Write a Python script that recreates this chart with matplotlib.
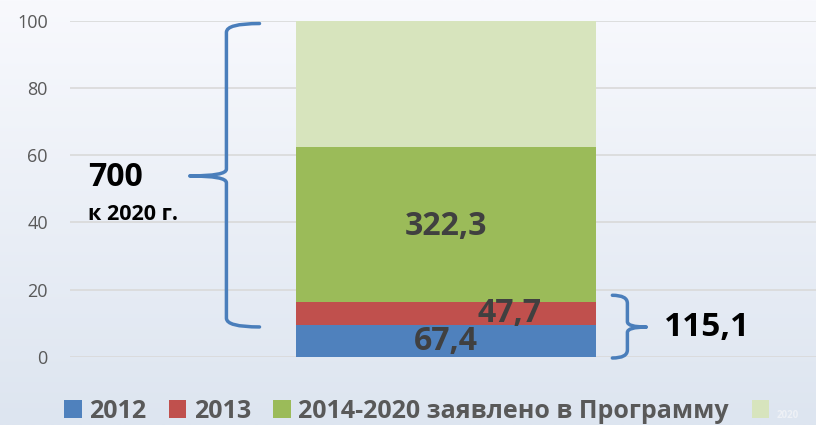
import numpy as np
import matplotlib
matplotlib.use("Agg")
import matplotlib.pyplot as plt
from matplotlib.path import Path
from matplotlib.patches import PathPatch, Patch

plt.rcParams['font.family'] = ['Open Sans', 'DejaVu Sans']

# ---- data ----
series_names = ['2012', '2013', '2014-2020 заявлено в Программу', '2020']
values = [67.4, 47.7, 322.3, 262.6]          # млн (total 700)
value_labels = ['67,4', '47,7', '322,3', None]
colors = ['#4f81bd', '#c0504d', '#9bbb59', '#d7e4bd']
total_label = '700'
total_sub = 'к 2020 г.'
sum_label = '115,1'
yticks = [0, 20, 40, 60, 80, 100]

total = sum(values)
pct = [v / total * 100 for v in values]

fig = plt.figure(figsize=(8.16, 4.25), dpi=100)

# gradient background
bg = fig.add_axes([0, 0, 1, 1], zorder=-10)
top = np.array([0xf8, 0xf9, 0xfd]) / 255
bot = np.array([0xdd, 0xe5, 0xf0]) / 255
t = np.linspace(0, 1, 256)[:, None]
grad = top[None, :] * (1 - t) + bot[None, :] * t
bg.imshow(grad[:, None, :], aspect='auto', extent=[0, 1, 0, 1])
bg.axis('off')

ax = fig.add_axes([70 / 816, 68 / 425, 746 / 816, 336.5 / 425])
ax.set_facecolor('none')

bottom = 0
mids = []
for p, c in zip(pct, colors):
    ax.bar(0, p, width=1.0, bottom=bottom, color=c, zorder=3)
    mids.append(bottom + p / 2)
    bottom += p

ax.set_xlim(-1.25, 1.23)
ax.set_ylim(0, 100)
ax.set_yticks(yticks)
ax.set_xticks([])
ax.grid(axis='y', color='#d9d9d9', lw=1.2, zorder=0)
for s in ax.spines.values():
    s.set_visible(False)
ax.tick_params(axis='y', length=0, pad=16, labelsize=13, labelcolor='#595959')

# value labels
lab_fs = 23
lab_col = '#404040'
ax.text(0, mids[0] - 0.3, value_labels[0], ha='center', va='center',
        fontsize=lab_fs, fontweight='bold', color=lab_col, zorder=5)
ax.text(0.21, mids[1], value_labels[1], ha='center', va='center',
        fontsize=lab_fs, fontweight='bold', color=lab_col, zorder=5)
ax.text(0, mids[2] - 0.8, value_labels[2], ha='center', va='center',
        fontsize=lab_fs, fontweight='bold', color=lab_col, zorder=5)


def brace(ax, x_end, x_spine, x_tip, y0, y1, ym, r, rm):
    verts = [(x_end, y1),
             (x_spine, y1), (x_spine, y1 - r),
             (x_spine, ym + rm),
             (x_spine, ym), (x_tip, ym),
             (x_spine, ym), (x_spine, ym - rm),
             (x_spine, y0 + r),
             (x_spine, y0), (x_end, y0)]
    codes = [Path.MOVETO, Path.CURVE3, Path.CURVE3, Path.LINETO,
             Path.CURVE3, Path.CURVE3, Path.CURVE3, Path.CURVE3,
             Path.LINETO, Path.CURVE3, Path.CURVE3]
    patch = PathPatch(Path(verts, codes), fill=False, edgecolor='#4a7ebb',
                      lw=2.5, capstyle='round', joinstyle='round',
                      clip_on=False, zorder=6)
    ax.add_patch(patch)


cum2 = pct[0] + pct[1]
# left brace: from top of blue to 100
brace(ax, -0.62, -0.73, -0.852, pct[0] - 0.7, 99.1, 53.8, 2.6, 2.0)
# right brace: 2012 + 2013
brace(ax, 0.553, 0.603, 0.666, -0.3, cum2 + 1.9, 8.9, 2.4, 1.6)

ax.text(-1.19, 53.3, total_label, ha='left', va='center', fontsize=23,
        fontweight='bold', color='black')
ax.text(-1.19, 42.4, total_sub, ha='left', va='center', fontsize=15.5,
        fontweight='bold', color='black')
ax.text(0.726, 8.9, sum_label, ha='left', va='center', fontsize=24,
        fontweight='bold', color='black')

handles = [Patch(facecolor=c, edgecolor='none') for c in colors]
leg = fig.legend(handles, series_names, loc='center left',
                 bbox_to_anchor=(64 / 816, 1 - 411 / 425), ncol=4,
                 frameon=False, borderpad=0, borderaxespad=0,
                 handlelength=0.7, handleheight=0.7, handletextpad=0.3,
                 columnspacing=0.9, fontsize=18)
for txt in leg.get_texts():
    txt.set_color('#595959')
    txt.set_fontweight('bold')
    txt.set_fontsize(18)
leg.get_texts()[3].set_fontsize(7)
leg.get_texts()[3].set_color('#eef1f6')

fig.savefig('out.png', dpi=100)
